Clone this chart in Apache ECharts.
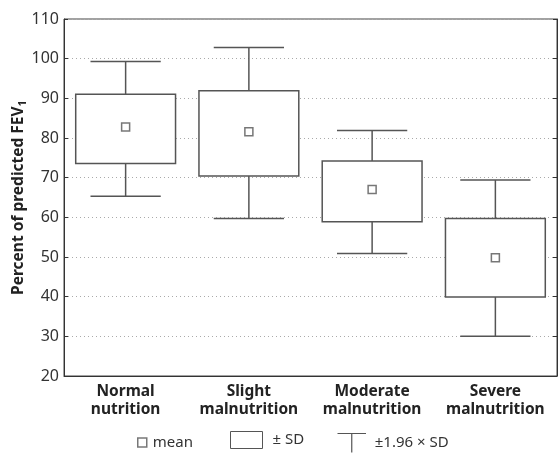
<!DOCTYPE html>
<html><head><meta charset="utf-8">
<script src="https://cdn.jsdelivr.net/npm/echarts@6/dist/echarts.min.js"></script>
<style>html,body{margin:0;padding:0;background:#fff}#c{width:558px;height:465px}</style>
</head><body><div id="c"></div>
<script>
const categories = ['Normal\nnutrition', 'Slight\nmalnutrition', 'Moderate\nmalnutrition', 'Severe\nmalnutrition'];
const means  = [82.8, 81.6, 67.0, 49.8];
const sdLow  = [73.6, 70.4, 58.9, 39.9];
const sdHigh = [91.0, 91.9, 74.2, 59.7];
const ciLow  = [65.3, 59.7, 50.9, 30.0];
const ciHigh = [99.3, 102.8, 81.9, 69.4];
const yTicks = [20, 30, 40, 50, 60, 70, 80, 90, 100, 110];

const FONT = '"Noto Sans", sans-serif';
const LINE = '#555';

const whiskerData = categories.map((c, i) => [i, ciLow[i], ciHigh[i]]);
const boxData = categories.map((c, i) => [i, sdLow[i], sdHigh[i]]);
const meanData = categories.map((c, i) => [i, means[i]]);

const chart = echarts.init(document.getElementById('c'), null, {renderer: 'canvas'});
chart.setOption({
  animation: false,
  textStyle: {fontFamily: FONT},
  grid: {left: 64, right: 1, top: 19, bottom: 89, show: true, borderColor: '#444', borderWidth: 1,
         containLabel: false, outerBoundsMode: 'none'},
  xAxis: {
    type: 'category', data: categories,
    axisLine: {lineStyle: {color: '#333', width: 1}},
    axisTick: {alignWithLabel: true, inside: true, length: 4, lineStyle: {color: '#333'}},
    axisLabel: {interval: 0, hideOverlap: false, color: '#222', fontSize: 15.5, fontWeight: 'bold', fontFamily: FONT, lineHeight: 18, margin: 7}
  },
  yAxis: [{
    type: 'value', min: yTicks[0], max: yTicks[yTicks.length - 1], interval: 10,
    name: 'Percent of predicted FEV{sub|1}', nameLocation: 'middle', nameGap: 36, nameMoveOverlap: false,
    nameTextStyle: {fontSize: 15.5, fontWeight: 'bold', color: '#222', fontFamily: FONT,
      rich: {sub: {fontSize: 11, fontWeight: 'bold', verticalAlign: 'bottom', padding: [7, 0, 0, 0], color: '#222'}}},
    axisLine: {show: true, lineStyle: {color: '#333', width: 1}},
    axisTick: {show: true, inside: true, length: 4, lineStyle: {color: '#333'}},
    axisLabel: {color: '#333', fontSize: 16, fontFamily: FONT, margin: 5},
    splitLine: {show: true, lineStyle: {type: [1, 3], color: '#aaa', width: 1}}
  }, {
    type: 'value', position: 'right', min: yTicks[0], max: yTicks[yTicks.length - 1], interval: 10,
    axisLine: {show: true, lineStyle: {color: '#333'}},
    axisTick: {show: true, inside: true, length: 4, lineStyle: {color: '#333'}},
    axisLabel: {show: false}, splitLine: {show: false}
  }],
  legend: [
    {left: 137, top: 435, padding: 0, itemWidth: 9, itemHeight: 9, itemGap: 5,
     textStyle: {fontSize: 15, color: '#333', fontFamily: FONT, padding: [0, 0, 0, 1]},
     data: [{name: 'mean', icon: 'rect', itemStyle: {color: '#fff', borderColor: LINE, borderWidth: 1.5}}]},
    {left: 230, top: 431, padding: 0, itemWidth: 32, itemHeight: 17,
     textStyle: {fontSize: 15, color: '#333', fontFamily: FONT, padding: [0, 0, 0, 5]},
     data: [{name: '± SD', icon: 'rect', itemStyle: {color: '#fff', borderColor: LINE, borderWidth: 1}}]},
    {left: 335, top: 431, padding: 0, itemWidth: 30, itemHeight: 19,
     textStyle: {fontSize: 15, color: '#333', fontFamily: FONT, padding: [0, 0, 0, 3]},
     data: [{name: '±1.96 × SD', icon: 'path://M0,0L30,0M15,0L15,20', itemStyle: {color: 'none', borderColor: LINE, borderWidth: 1.2}}]}
  ],
  series: [
    {
      name: '±1.96 × SD', type: 'custom', data: whiskerData,
      encode: {x: 0, y: [1, 2]},
      renderItem: function (params, api) {
        const x = api.value(0);
        const lo = api.coord([x, api.value(1)]);
        const hi = api.coord([x, api.value(2)]);
        const bw = api.size([1, 0])[0];
        const cap = bw * 0.57 / 2;
        const st = {stroke: LINE, lineWidth: 1.5, fill: null};
        return {type: 'group', children: [
          {type: 'line', shape: {x1: lo[0], y1: lo[1], x2: hi[0], y2: hi[1]}, style: st},
          {type: 'line', shape: {x1: lo[0] - cap, y1: lo[1], x2: lo[0] + cap, y2: lo[1]}, style: st},
          {type: 'line', shape: {x1: hi[0] - cap, y1: hi[1], x2: hi[0] + cap, y2: hi[1]}, style: st}
        ]};
      },
      z: 2
    },
    {
      name: '± SD', type: 'custom', data: boxData,
      encode: {x: 0, y: [1, 2]},
      renderItem: function (params, api) {
        const x = api.value(0);
        const lo = api.coord([x, api.value(1)]);
        const hi = api.coord([x, api.value(2)]);
        const bw = api.size([1, 0])[0];
        const w = bw * 0.81;
        return {type: 'rect', shape: {x: lo[0] - w / 2, y: hi[1], width: w, height: lo[1] - hi[1]},
          style: {fill: '#fff', stroke: LINE, lineWidth: 1.5}};
      },
      z: 3
    },
    {
      name: 'mean', type: 'scatter', data: meanData,
      symbol: 'rect', symbolSize: 8,
      itemStyle: {color: '#fff', borderColor: LINE, borderWidth: 1.5},
      z: 4
    }
  ]
});
</script></body></html>
